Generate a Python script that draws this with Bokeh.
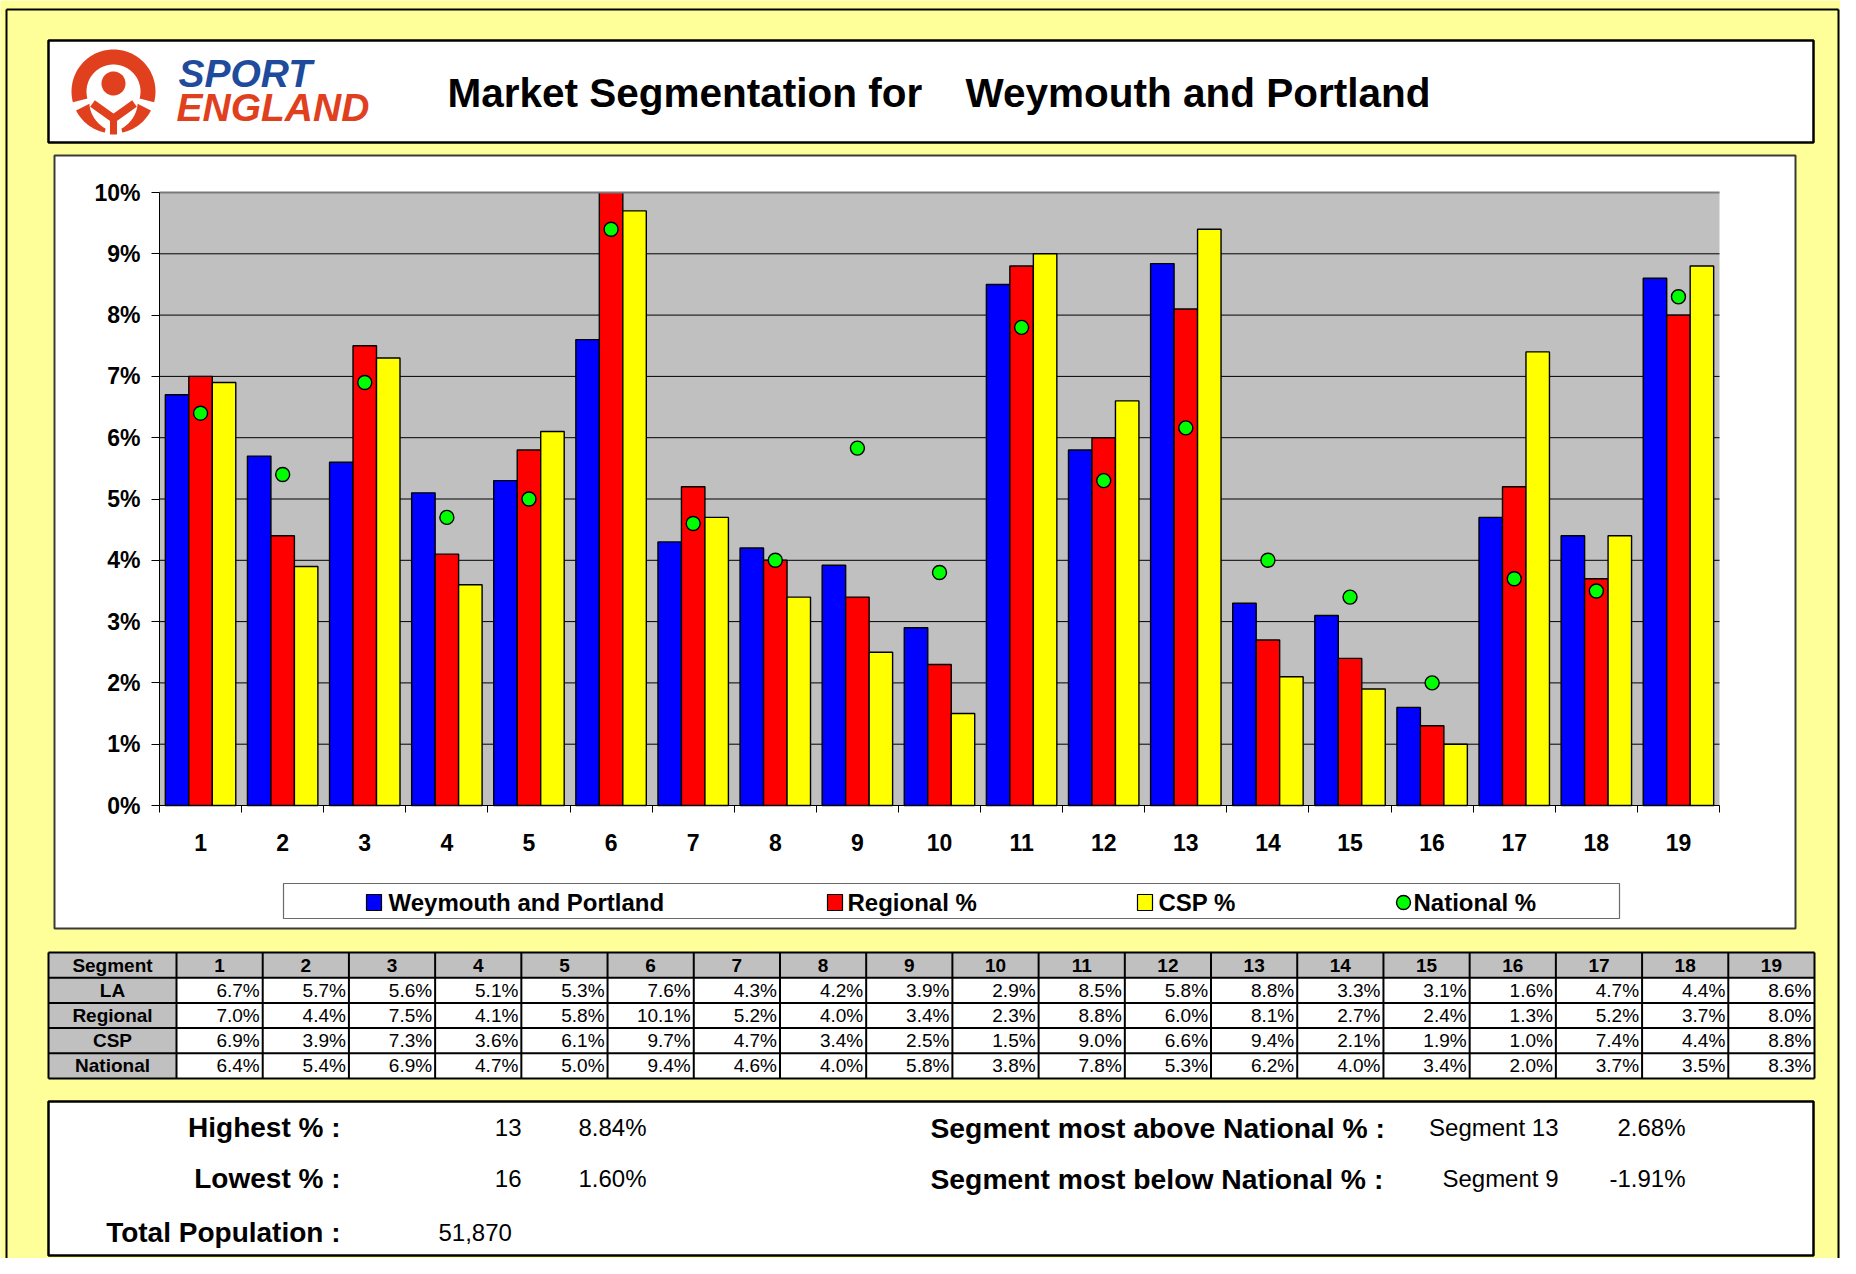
import numpy as np
from bokeh.plotting import figure
from bokeh.models import ColumnDataSource, Range1d, FixedTicker, PrintfTickFormatter
from bokeh.transform import dodge
from bokeh.core.properties import value
from bokeh.embed import file_html
from bokeh.resources import INLINE

# ---------------- data ----------------
segments = [1, 2, 3, 4, 5, 6, 7, 8, 9, 10, 11, 12, 13, 14, 15, 16, 17, 18, 19]
la_pct = [6.7, 5.7, 5.6, 5.1, 5.3, 7.6, 4.3, 4.2, 3.92, 2.9, 8.5, 5.8, 8.84, 3.3, 3.1, 1.60, 4.7, 4.4, 8.6]
regional_pct = [7.0, 4.4, 7.5, 4.1, 5.8, 10.1, 5.2, 4.0, 3.4, 2.3, 8.8, 6.0, 8.1, 2.7, 2.4, 1.3, 5.2, 3.7, 8.0]
csp_pct = [6.9, 3.9, 7.3, 3.6, 6.1, 9.7, 4.7, 3.4, 2.5, 1.5, 9.0, 6.6, 9.4, 2.1, 1.9, 1.0, 7.4, 4.4, 8.8]
national_pct = [6.4, 5.4, 6.9, 4.7, 5.0, 9.4, 4.6, 4.0, 5.83, 3.8, 7.8, 5.3, 6.16, 4.0, 3.4, 2.0, 3.7, 3.5, 8.3]
y_ticks = [0, 1, 2, 3, 4, 5, 6, 7, 8, 9, 10]
area_name = "Weymouth and Portland"
series_names = ["Weymouth and Portland", "Regional %", "CSP %", "National %"]
table_row_names = ["LA", "Regional", "CSP", "National"]
total_population = 51870

# ---------------- styling / layout ----------------
FONT = "Liberation Sans"
PAGE_BG = "#FFFF99"
BLUE, RED, YELLOW, GREEN = "#0000FF", "#FF0000", "#FFFF00", "#00FF00"
PLOT_BG = "#C0C0C0"
LOGO_RED, LOGO_BLUE = "#E0401E", "#1E4B9B"

W, H = 1840, 1258
PL, PR, PT, PB = 159, 1719, 192, 805          # plot area in page pixels
X0, X1 = segments[0] - 0.5, segments[-1] + 0.5
Y0, Y1 = y_ticks[0], y_ticks[-1]
BAR_W = 0.286

xpp = (X1 - X0) / (PR - PL)
ypp = (Y1 - Y0) / (PB - PT)

p = figure(width=W, height=H,
           x_range=Range1d(X0 - PL * xpp, X0 + (W - PL) * xpp),
           y_range=Range1d(Y1 - (H - PT) * ypp, Y1 + PT * ypp),
           output_backend="svg", toolbar_location=None, min_border=0,
           background_fill_color=PAGE_BG, border_fill_color=PAGE_BG,
           outline_line_color=None)
p.min_border_left = p.min_border_right = p.min_border_top = p.min_border_bottom = 0
p.grid.visible = False
p.extra_x_ranges = {"px": Range1d(0, W)}
p.extra_y_ranges = {"px": Range1d(H, 0)}

PX = dict(x_range_name="px", y_range_name="px")


def px_quad(l, r, t, b, fill, line=None, lw=1.0):
    p.quad(left=[l], right=[r], top=[t], bottom=[b], fill_color=fill,
           line_color=line, line_width=lw, **PX)


def px_line(xs, ys, color="black", lw=1.0):
    p.line(x=xs, y=ys, line_color=color, line_width=lw, **PX)


def px_text(x, y, s, size, style="normal", align="left", color="black"):
    p.text(x=[x], y=[y], text=[s], text_font=value(FONT),
           text_font_size=f"{size}px", text_font_style=style,
           text_align=align, text_baseline="middle", text_color=color, **PX)


# ---------------- outer frame ----------------
px_line([6, W - 2], [9, 9], lw=2)
px_line([6, 6], [9, H], lw=2)
px_line([W - 2, W - 2], [9, H], lw=2)

# ---------------- header ----------------
px_quad(48, 1813, 40, 142, "white", "black", 2.5)

# logo symbol
cx, cy = 113, 91
th = np.radians(np.linspace(-15, 195, 90))
ring_x = np.concatenate([cx + 42 * np.cos(th), (cx + 27 * np.cos(th))[::-1]])
ring_y = np.concatenate([cy - 42 * np.sin(th), (cy - 27 * np.sin(th))[::-1]])
p.patch(x=ring_x, y=ring_y, fill_color=LOGO_RED, line_color=None, **PX)
tc = np.radians(np.linspace(0, 360, 60))
p.patch(x=cx + 12 * np.cos(tc), y=(cy - 8) + 12 * np.sin(tc), fill_color=LOGO_RED, line_color=None, **PX)
px_line([cx - 21, cx, cx + 21], [cy + 12, cy + 27, cy + 12], LOGO_RED, 8)
px_line([cx, cx], [cy + 24, cy + 43], LOGO_RED, 7)
for a0, a1 in [(207, 258), (333, 282)]:
    ta = np.radians(np.linspace(a0, a1, 30))
    rr = np.linspace(27, 38, 30)
    lx = np.concatenate([cx + 42 * np.cos(ta), (cx + rr * np.cos(ta))[::-1]])
    ly = np.concatenate([cy - 42 * np.sin(ta), (cy - rr * np.sin(ta))[::-1]])
    p.patch(x=lx, y=ly, fill_color=LOGO_RED, line_color=None, **PX)
px_text(178, 73, "SPORT", 39, "bold italic", color=LOGO_BLUE)
px_text(176, 107, "ENGLAND", 39, "bold italic", color=LOGO_RED)

px_text(447, 92, "Market Segmentation for", 40.5, "bold")
px_text(965, 92, area_name, 40.5, "bold")

# ---------------- chart box ----------------
px_quad(54, 1795, 155, 928, "white", "#3A3A3A", 2)

# plot area background + gridlines (data coords)
p.quad(left=[X0], right=[X1], bottom=[Y0], top=[Y1], fill_color=PLOT_BG, line_color=None)
grid_y = y_ticks[1:-1]
p.segment(x0=[X0] * len(grid_y), x1=[X1] * len(grid_y), y0=grid_y, y1=grid_y,
          line_color="black", line_width=1)

src = ColumnDataSource(dict(seg=segments, la=la_pct, reg=regional_pct,
                            csp=csp_pct, nat=national_pct))
p.vbar(x=dodge("seg", -BAR_W, range=p.x_range), top="la", width=BAR_W, bottom=0,
       source=src, fill_color=BLUE, line_color="black", line_width=1.4)
p.vbar(x=dodge("seg", 0, range=p.x_range), top="reg", width=BAR_W, bottom=0,
       source=src, fill_color=RED, line_color="black", line_width=1.4)
p.vbar(x=dodge("seg", BAR_W, range=p.x_range), top="csp", width=BAR_W, bottom=0,
       source=src, fill_color=YELLOW, line_color="black", line_width=1.4)
p.scatter(x="seg", y="nat", source=src, size=14, marker="circle",
          fill_color=GREEN, line_color="black", line_width=1.4)

# keep bars inside the plot area (clip above the top value)
px_quad(PL + 1, PR + 2, 158, PT - 0.5, "white")
p.line(x=[X0, X1], y=[Y1, Y1], line_color="#7A7A7A", line_width=2)

# axes
yax = p.yaxis[0]
yax.fixed_location = X0
yax.bounds = (Y0, Y1)
yax.ticker = FixedTicker(ticks=y_ticks)
yax.formatter = PrintfTickFormatter(format="%d%%")
yax.major_tick_out = 8
yax.major_tick_in = 0
yax.minor_tick_line_color = None
yax.major_label_standoff = 11
yax.axis_line_color = "black"
yax.major_tick_line_color = "black"

xax = p.xaxis[0]
xax.fixed_location = Y0
xax.bounds = (X0, X1)
xax.ticker = FixedTicker(ticks=segments, minor_ticks=[s - 0.5 for s in segments] + [segments[-1] + 0.5])
xax.major_tick_line_color = None
xax.major_tick_out = 0
xax.major_tick_in = 0
xax.minor_tick_out = 7
xax.minor_tick_in = 0
xax.minor_tick_line_color = "black"
xax.major_label_standoff = 21
xax.axis_line_color = "black"

for ax in (xax, yax):
    ax.major_label_text_font = FONT
    ax.major_label_text_font_size = "23px"
    ax.major_label_text_font_style = "bold"
    ax.major_label_text_color = "black"

# legend (drawn)
px_quad(283, 1619, 883, 918, "white", "#6A6A6A", 1.2)
LEG_Y = 902
for (l, r), col in zip([(366, 381), (827, 842), (1137, 1152)], [BLUE, RED, YELLOW]):
    px_quad(l, r, LEG_Y - 8, LEG_Y + 8, col, "black", 1.2)
p.scatter(x=[1403], y=[LEG_Y], size=14, marker="circle", fill_color=GREEN,
          line_color="black", line_width=1.4, **PX)
for x, name in zip([388, 847, 1158, 1413], series_names):
    px_text(x, LEG_Y, name, 24, "bold")

# ---------------- data table ----------------
TL, TLR, TR, TT, RH = 48, 176, 1814, 952, 25.2
nrow = len(table_row_names) + 1
TB = TT + nrow * RH
cw = (TR - TLR) / len(segments)
px_quad(TL, TR, TT, TT + RH, PLOT_BG)
px_quad(TL, TLR, TT, TB, PLOT_BG)
px_quad(TLR, TR, TT + RH, TB, "white")
for k in range(nrow + 1):
    px_line([TL, TR], [TT + k * RH] * 2, lw=2)
px_line([TL, TL], [TT, TB], lw=2)
for j in range(len(segments) + 1):
    xx = TLR + j * cw
    px_line([xx, xx], [TT, TB], lw=2)

tx, ty, tt, ta, ts = [], [], [], [], []
tx.append((TL + TLR) / 2); ty.append(TT + RH / 2); tt.append("Segment"); ta.append("center"); ts.append("bold")
for j, s in enumerate(segments):
    tx.append(TLR + (j + 0.5) * cw); ty.append(TT + RH / 2); tt.append(str(s)); ta.append("center"); ts.append("bold")
for i, (name, vals) in enumerate(zip(table_row_names, [la_pct, regional_pct, csp_pct, national_pct])):
    yy = TT + (i + 1.5) * RH
    tx.append((TL + TLR) / 2); ty.append(yy); tt.append(name); ta.append("center"); ts.append("bold")
    for j, v in enumerate(vals):
        tx.append(TLR + (j + 1) * cw - 3); ty.append(yy); tt.append(f"{v:.1f}%"); ta.append("right"); ts.append("normal")
tsrc = ColumnDataSource(dict(x=tx, y=ty, t=tt, a=ta, s=ts))
p.text(x="x", y="y", text="t", text_align="a", text_font_style="s", source=tsrc,
       text_font=value(FONT), text_font_size="19px", text_baseline="middle",
       text_color="black", **PX)

# ---------------- summary panel ----------------
la_arr = np.array(la_pct)
diff = la_arr - np.array(national_pct)
i_hi, i_lo = int(np.argmax(la_arr)), int(np.argmin(la_arr))
i_above, i_below = int(np.argmax(diff)), int(np.argmin(diff))

px_quad(48, 1813, 1101, 1255, "white", "black", 2.5)
R1, R2, R3 = 1127, 1178, 1232
px_text(340, R1, "Highest % :", 28, "bold", "right")
px_text(521, R1, str(segments[i_hi]), 24, align="right")
px_text(578, R1, f"{la_arr[i_hi]:.2f}%", 24)
px_text(340, R2, "Lowest % :", 28, "bold", "right")
px_text(521, R2, str(segments[i_lo]), 24, align="right")
px_text(578, R2, f"{la_arr[i_lo]:.2f}%", 24)
px_text(340, R3, "Total Population :", 28, "bold", "right")
px_text(438, R3, f"{total_population:,}", 24)

px_text(930, R1, "Segment most above National % :", 28.3, "bold")
px_text(1558, R1, f"Segment {segments[i_above]}", 24, align="right")
px_text(1685, R1, f"{diff[i_above]:.2f}%", 24, align="right")
px_text(930, R2, "Segment most below National % :", 28.3, "bold")
px_text(1558, R2, f"Segment {segments[i_below]}", 24, align="right")
px_text(1685, R2, f"{diff[i_below]:.2f}%", 24, align="right")

open("out.html", "w").write(file_html(p, INLINE))
